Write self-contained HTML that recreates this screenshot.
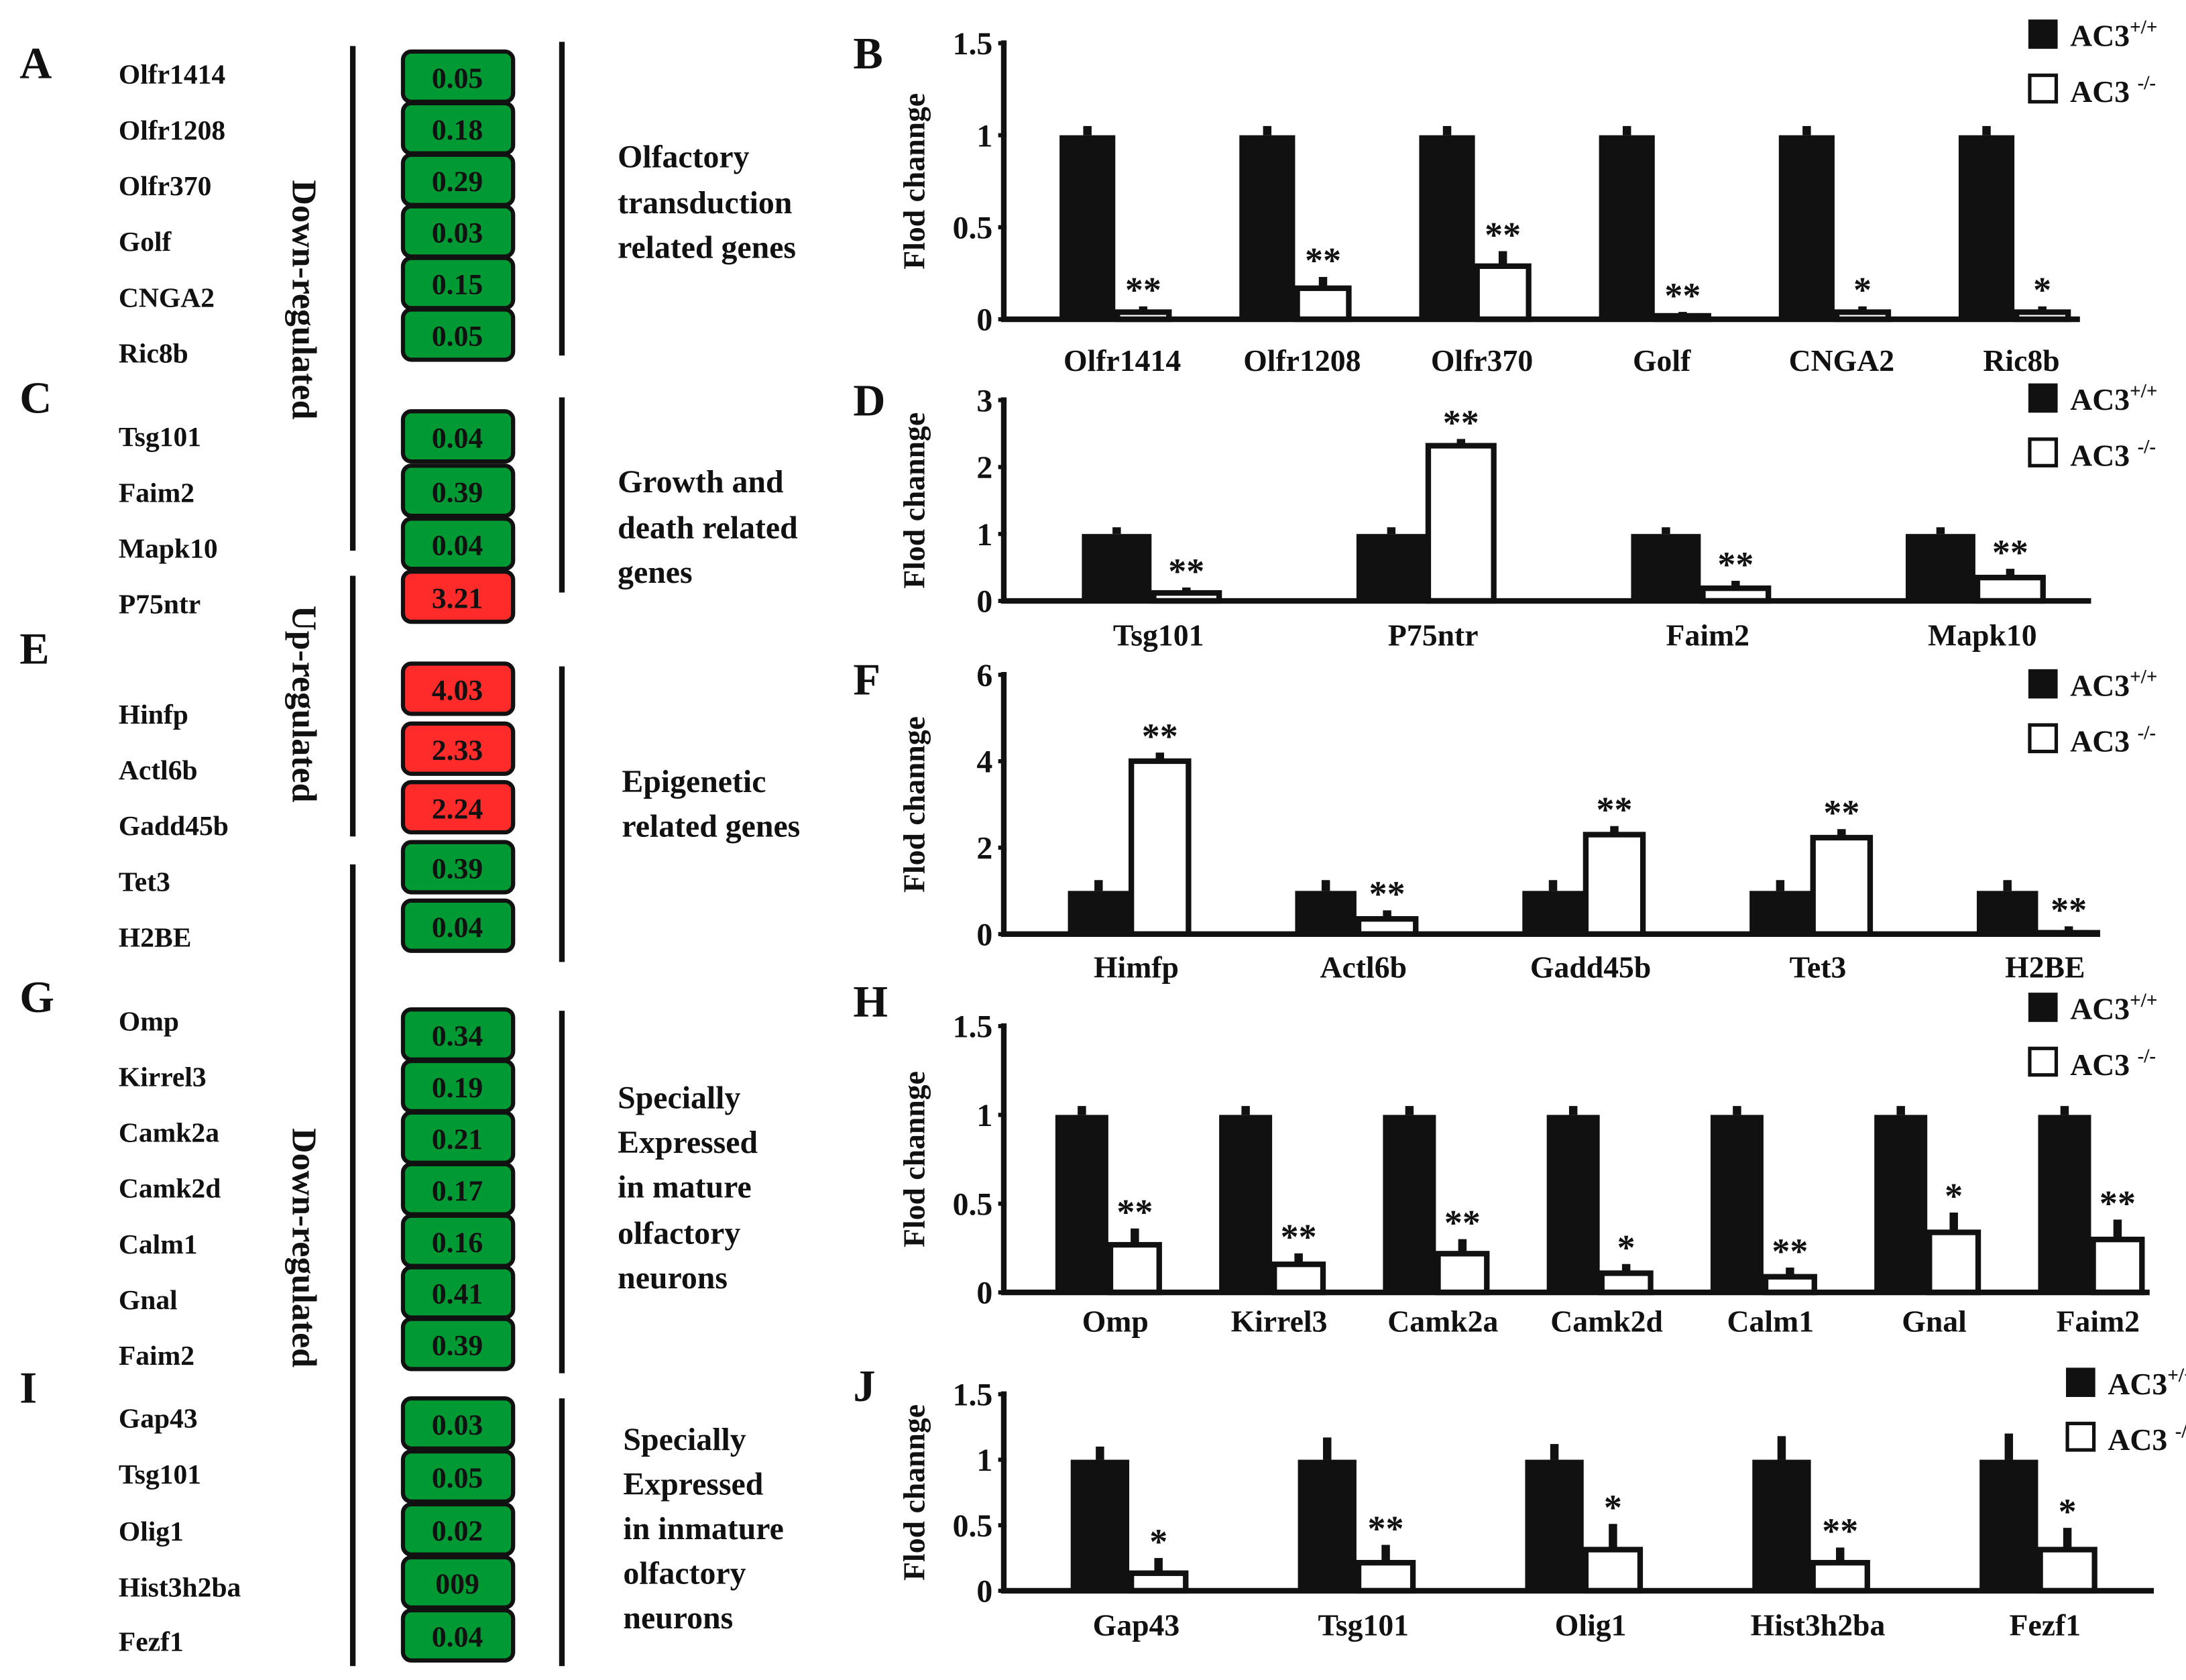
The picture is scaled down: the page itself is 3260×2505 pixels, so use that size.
<!DOCTYPE html>
<html><head><meta charset="utf-8">
<style>
html,body{margin:0;padding:0;background:#fff;}
svg{display:block;}
text{font-family:"Liberation Serif",serif;font-weight:bold;fill:#111;}
</style></head>
<body>
<svg id="fig" width="3260" height="2505" viewBox="0 0 1568 1205" xmlns="http://www.w3.org/2000/svg">
<g id="left"></g>
<g id="charts"></g>
</svg>
<script>
const NS="http://www.w3.org/2000/svg";
function mk(parent,tag,attrs,txt){const e=document.createElementNS(NS,tag);for(const k in attrs)e.setAttribute(k,attrs[k]);if(txt!==undefined)e.textContent=txt;parent.appendChild(e);return e;}

// ---------- left table data ----------
const geneNames=["Olfr1414","Olfr1208","Olfr370","Golf","CNGA2","Ric8b","Tsg101","Faim2","Mapk10","P75ntr","Hinfp","Actl6b","Gadd45b","Tet3","H2BE","Omp","Kirrel3","Camk2a","Camk2d","Calm1","Gnal","Faim2","Gap43","Tsg101","Olig1","Hist3h2ba","Fezf1"];
const foldValues=["0.05","0.18","0.29","0.03","0.15","0.05","0.04","0.39","0.04","3.21","4.03","2.33","2.24","0.39","0.04","0.34","0.19","0.21","0.17","0.16","0.41","0.39","0.03","0.05","0.02","009","0.04"];
const upFlags=[0,0,0,0,0,0,0,0,0,1,1,1,1,0,0,0,0,0,0,0,0,0,0,0,0,0,0];
const nameY=[53,93,133,173,213,253,313,353,393,433,512,552,592,632,672,732,772,812,852,892,932,972,1017,1057,1098,1138,1177];
const boxY=[55,92,129,166,203,240,313,352,390,428,494,537,579,622,664,742,779,816,853,890,927,964,1021,1059,1097,1135,1173];

const L=document.getElementById('left');
[["A",45],["C",285],["E",465],["G",715],["I",995]].forEach(([t,y])=>{
  const e=mk(L,'text',{x:14,y:y+11,'font-size':32},t);
  
  
});
geneNames.forEach((g,i)=>{
  const e=mk(L,'text',{x:85,y:nameY[i]+7,'font-size':20},g);
  
  
  const r=mk(L,'rect',{x:289,y:boxY[i]-18,width:79,height:36,rx:6,fill:upFlags[i]?'#ff2b2b':'#009933',stroke:'#111','stroke-width':3});
  
  
  const t=mk(L,'text',{x:328,y:boxY[i]+8,'font-size':21,'text-anchor':'middle'},foldValues[i]);
  
  
});
[[253,33,395],[253,413,600],[253,620,1195],[403,30,255],[403,285,425],[403,478,690],[403,725,985],[403,1003,1195]].forEach(([x,a,b])=>{
  const l=mk(L,'line',{x1:x,y1:a,x2:x,y2:b,stroke:'#111','stroke-width':4});
  
  
});
[["Down-regulated",215],["Up-regulated",505],["Down-regulated",895]].forEach(([t,y])=>{
  const e=mk(L,'text',{x:0,y:0,'font-size':25,'text-anchor':'middle',transform:`translate(210,${y}) rotate(90)`},t);
  
  
});
[[443,[["Olfactory",112],["transduction",145],["related genes",177]]],
 [443,[["Growth and",345],["death related",378],["genes",410]]],
 [446,[["Epigenetic",560],["related genes",592]]],
 [443,[["Specially",787],["Expressed",819],["in mature",851],["olfactory",884],["neurons",916]]],
 [447,[["Specially",1032],["Expressed",1064],["in inmature",1096],["olfactory",1128],["neurons",1160]]]].forEach(([x,lines])=>{
  lines.forEach(([t,y])=>{
    const e=mk(L,'text',{x:x,y:y+8,'font-size':23},t);
    
    
  });
});

// ---------- chart data ----------
const bCats=["Olfr1414","Olfr1208","Olfr370","Golf","CNGA2","Ric8b"];
const bWt=[1,1,1,1,1,1];
const bWtErr=[0.05,0.05,0.05,0.05,0.05,0.05];
const bKo=[0.05,0.18,0.3,0.03,0.05,0.05];
const bKoErr=[0.02,0.05,0.07,0.01,0.02,0.02];
const bStars=["**","**","**","**","*","*"];
const bTicks=[0,0.5,1,1.5];
const bTickLabels=["0","0.5","1","1.5"];

const dCats=["Tsg101","P75ntr","Faim2","Mapk10"];
const dWt=[1,1,1,1];
const dWtErr=[0.1,0.1,0.1,0.1];
const dKo=[0.15,2.35,0.22,0.38];
const dKoErr=[0.05,0.07,0.08,0.1];
const dStars=["**","**","**","**"];
const dTicks=[0,1,2,3];
const dTickLabels=["0","1","2","3"];

const fCats=["Himfp","Actl6b","Gadd45b","Tet3","H2BE"];
const fWt=[1,1,1,1,1];
const fWtErr=[0.25,0.25,0.25,0.25,0.25];
const fKo=[4.05,0.4,2.35,2.28,0.08];
const fKoErr=[0.15,0.15,0.15,0.15,0.1];
const fStars=["**","**","**","**","**"];
const fTicks=[0,2,4,6];
const fTickLabels=["0","2","4","6"];

const hCats=["Omp","Kirrel3","Camk2a","Camk2d","Calm1","Gnal","Faim2"];
const hWt=[1,1,1,1,1,1,1];
const hWtErr=[0.05,0.05,0.05,0.05,0.05,0.05,0.05];
const hKo=[0.28,0.17,0.23,0.12,0.1,0.35,0.31];
const hKoErr=[0.08,0.05,0.07,0.04,0.04,0.1,0.1];
const hStars=["**","**","**","*","**","*","**"];
const hTicks=[0,0.5,1,1.5];
const hTickLabels=["0","0.5","1","1.5"];

const jCats=["Gap43","Tsg101","Olig1","Hist3h2ba","Fezf1"];
const jWt=[1,1,1,1,1];
const jWtErr=[0.1,0.17,0.12,0.18,0.2];
const jKo=[0.15,0.23,0.33,0.23,0.33];
const jKoErr=[0.1,0.12,0.18,0.1,0.15];
const jStars=["*","**","*","**","*"];
const jTicks=[0,0.5,1,1.5];
const jTickLabels=["0","0.5","1","1.5"];

const C=document.getElementById('charts');
function chart(id,letter,cats,wt,wtErr,ko,koErr,stars,ticks,tickLabels,max,geo){
  const g=mk(C,'g',{});
  
  
  const y=v=>geo.y0-(v/max)*(geo.y0-geo.yTop);
  const cx=i=>geo.first+i*geo.step;
  const pl=mk(g,'text',{x:612,y:geo.letterY,'font-size':32},letter);
  
  
  const yl=mk(g,'text',{x:0,y:0,'font-size':22,'text-anchor':'middle','xml:space':'preserve',transform:`translate(663,${(geo.y0+geo.yTop)/2}) rotate(-90)`},"Flod   channge");
  
  
  ticks.forEach((t,i)=>{
    const tl=mk(g,'text',{x:712,y:y(t)+8,'font-size':23,'text-anchor':'end'},tickLabels[i]);
    
    
    const tk=mk(g,'line',{x1:716,x2:722,y1:y(t),y2:y(t),stroke:'#111','stroke-width':3});
    
    
  });
  cats.forEach((c,i)=>{
    const x=cx(i),w=geo.w;
    const eb=mk(g,'line',{x1:x-w/2,x2:x-w/2,y1:y(wt[i]),y2:y(wt[i]+wtErr[i]),stroke:'#111','stroke-width':6});
    
    
    const b=mk(g,'rect',{x:x-w,y:y(wt[i]),width:w,height:geo.y0-y(wt[i]),fill:'#111'});
    
    
    const ek=mk(g,'line',{x1:x+w/2,x2:x+w/2,y1:y(ko[i]),y2:y(ko[i]+koErr[i]),stroke:'#111','stroke-width':6});
    
    
    const k=mk(g,'rect',{x:x+1.5,y:y(ko[i])+1.5,width:w-3,height:Math.max(0,geo.y0-y(ko[i])-1.5),fill:'#fff',stroke:'#111','stroke-width':4});
    
    
    const s=mk(g,'text',{x:x+w/2,y:y(ko[i]+koErr[i])-3,'font-size':26,'text-anchor':'middle'},stars[i]);
    
    
    const cl=mk(g,'text',{x:x+5,y:geo.labelY,'font-size':22,'text-anchor':'middle'},c);
    
    
  });
  const ax=mk(g,'path',{d:`M720 ${geo.yTop-2} V${geo.y0} H${geo.xEnd}`,fill:'none',stroke:'#111','stroke-width':4});
  
  
  const lx=geo.legX,ly=geo.legY;
  const l1=mk(g,'rect',{x:lx,y:ly,width:21,height:21,fill:'#111'});
  
  
  const t1=mk(g,'text',{x:lx+30,y:ly+19,'font-size':22},"AC3");
  
  
  mk(t1,'tspan',{'font-size':14,dy:-9},"+/+");
  const l2=mk(g,'rect',{x:lx+1,y:ly+40,width:19,height:19,fill:'#fff',stroke:'#111','stroke-width':2.5});
  
  
  const t2=mk(g,'text',{x:lx+30,y:ly+59,'font-size':22},"AC3 ");
  
  
  mk(t2,'tspan',{'font-size':14,dy:-9},"-/-");
}
chart('b','B',bCats,bWt,bWtErr,bKo,bKoErr,bStars,bTicks,bTickLabels,1.5,{y0:229,yTop:31,first:800,step:129,w:40,xEnd:1492,labelY:266,letterY:49,legX:1455,legY:14});
chart('d','D',dCats,dWt,dWtErr,dKo,dKoErr,dStars,dTicks,dTickLabels,3,{y0:431,yTop:287,first:826,step:197,w:50,xEnd:1500,labelY:463,letterY:298,legX:1455,legY:275});
chart('f','F',fCats,fWt,fWtErr,fKo,fKoErr,fStars,fTicks,fTickLabels,6,{y0:670,yTop:484,first:810,step:163,w:44,xEnd:1500,labelY:701,letterY:498,legX:1455,legY:480});
chart('h','H',hCats,hWt,hWtErr,hKo,hKoErr,hStars,hTicks,hTickLabels,1.5,{y0:927,yTop:736,first:795,step:117.5,w:38,xEnd:1542,labelY:955,letterY:729,legX:1455,legY:712});
chart('j','J',jCats,jWt,jWtErr,jKo,jKoErr,jStars,jTicks,jTickLabels,1.5,{y0:1141,yTop:1000,first:810,step:163,w:42,xEnd:1545,labelY:1173,letterY:1005,legX:1482,legY:981});
</script>
</body></html>
